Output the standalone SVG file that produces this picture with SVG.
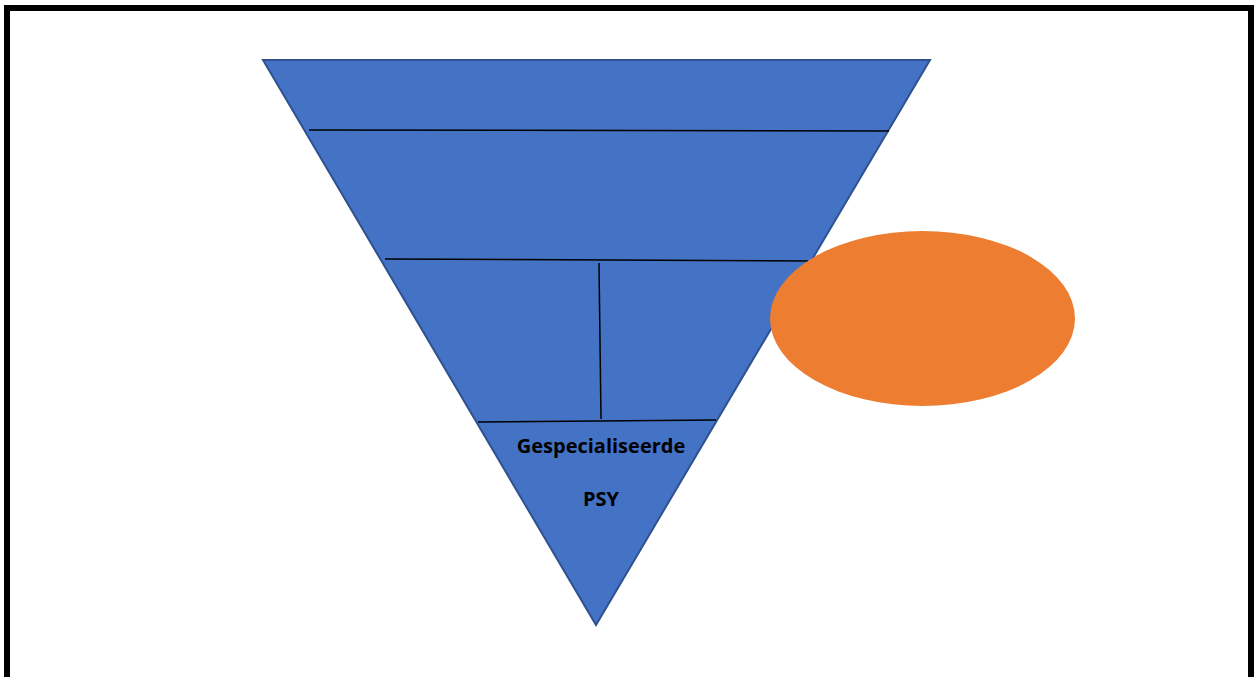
<svg xmlns="http://www.w3.org/2000/svg" width="1254" height="677" viewBox="0 0 1254 677">
<style>
.tri{fill:#4472C4;stroke:#2F528F;stroke-width:2}
.ln{stroke:#000;stroke-width:1.5;fill:none}
.lbl{font-family:"Open Sans","Liberation Sans",sans-serif;font-weight:bold;font-size:20px;fill:#000;text-anchor:middle}
</style>
<rect x="0" y="0" width="1254" height="677" fill="#fff"/>
<rect x="7" y="8" width="1244" height="700" fill="none" stroke="#000" stroke-width="6"/>
<g id="pyramid">
<polygon class="tri" points="263,60 930,60 596,625"/>
</g>
<g id="connectors">
<line class="ln" x1="309" y1="130" x2="889" y2="131"/>
<line class="ln" x1="385" y1="259" x2="808" y2="261"/>
<line class="ln" x1="599" y1="263" x2="601" y2="419"/>
<line class="ln" x1="478" y1="422" x2="716" y2="420"/>
</g>
<g id="ellipse">
<ellipse cx="922.5" cy="318.5" rx="152.5" ry="87.5" fill="#ED7D31"/>
</g>
<g id="label">
<text class="lbl" x="601" y="453">Gespecialiseerde</text>
<text class="lbl" x="601" y="506">PSY</text>
</g>
</svg>
